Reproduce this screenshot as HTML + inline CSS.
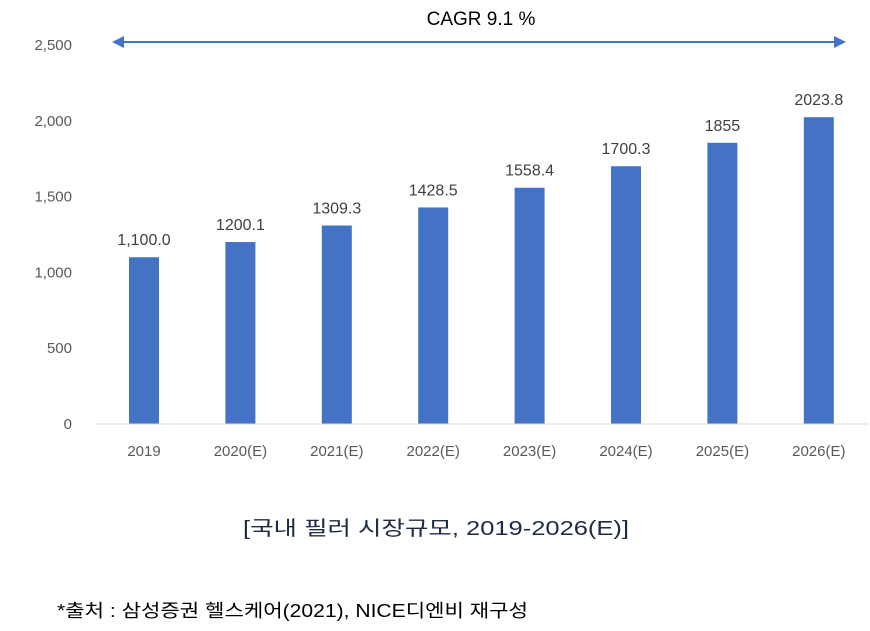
<!DOCTYPE html>
<html><head><meta charset="utf-8"><style>
body{margin:0;background:#fff;width:870px;height:626px;overflow:hidden;font-family:"Liberation Sans","Noto Sans CJK KR",sans-serif}
</style></head><body>
<svg id="chart" width="870" height="626" xmlns="http://www.w3.org/2000/svg" font-family="Liberation Sans, Noto Sans CJK KR, sans-serif">
<text x="481" y="25" font-size="19" text-anchor="middle" fill="#000">CAGR 9.1 %</text>
<g stroke="#4472C4" fill="#4472C4">
<line x1="118" y1="42" x2="840" y2="42" stroke-width="2"/>
<polygon points="112,42 124,36 124,48" stroke="none"/>
<polygon points="846,42 834,36 834,48" stroke="none"/>
</g>
<g id="yaxis"></g><g id="bars"></g><g id="xaxis"></g>
<line x1="96" y1="424" x2="867" y2="424" stroke="#d9d9d9" stroke-width="1"/>
<text x="243" y="535" font-size="20" textLength="386" lengthAdjust="spacingAndGlyphs" fill="#1f2a44">[국내 필러 시장규모, 2019-2026(E)]</text>
<text x="57" y="617" font-size="18" textLength="471" lengthAdjust="spacingAndGlyphs" fill="#000">*출처 : 삼성증권 헬스케어(2021), NICE디엔비 재구성</text>
</svg>
<script>
const categories=["2019","2020(E)","2021(E)","2022(E)","2023(E)","2024(E)","2025(E)","2026(E)"];
const values=[1100.0,1200.1,1309.3,1428.5,1558.4,1700.3,1855,2023.8];
const valueLabels=["1,100.0","1200.1","1309.3","1428.5","1558.4","1700.3","1855","2023.8"];
const yTicks=[0,500,1000,1500,2000,2500];
const yTickLabels=["0","500","1,000","1,500","2,000","2,500"];
const NS="http://www.w3.org/2000/svg";
const y=v=>424-v*0.1516;
const x=i=>144+i*96.4;
function mk(tag,attrs,parent,text){const e=document.createElementNS(NS,tag);for(const k in attrs)e.setAttribute(k,attrs[k]);if(text!==undefined)e.textContent=text;document.getElementById(parent).appendChild(e);return e;}
yTicks.forEach((t,i)=>{
 const e=mk('text',{x:72,y:y(t)+5,'font-size':15,'text-anchor':'end',fill:'#595959'},'yaxis',yTickLabels[i]);
 
 
});
values.forEach((v,i)=>{
 const r=mk('rect',{x:x(i)-15,y:y(v),width:30,height:424-y(v),fill:'#4472C4'},'bars');
 
 
 const l=mk('text',{x:x(i),y:y(v)-12,'font-size':16,'text-anchor':'middle',fill:'#404040'},'bars',valueLabels[i]);
 
 
 const c=mk('text',{x:x(i),y:456,'font-size':15,'text-anchor':'middle',fill:'#595959'},'xaxis',categories[i]);
 
 
});
</script>
</body></html>
